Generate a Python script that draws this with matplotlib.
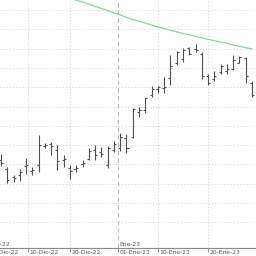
import numpy as np
import pandas as pd
import matplotlib
matplotlib.use("Agg")
import matplotlib.pyplot as plt
import matplotlib.transforms as mtransforms

# ---- data ----
# trading calendar (Dec 26 closed); bars start at 2022-12-05
calendar = pd.bdate_range("2022-12-01", "2023-01-31")
calendar = calendar[calendar != pd.Timestamp("2022-12-26")]
first_bar = pd.Timestamp("2022-12-05")

opens = [2.323, 2.276, 2.235, 2.245, 2.292, 2.266, 2.297, 2.396, 2.406, 2.375,
         2.323, 2.282, 2.276, 2.302, 2.328, 2.375, 2.364, 2.297, 2.375, 2.385,
         2.437, 2.442, 2.572, 2.582, 2.660, 2.691, 2.696, 2.748, 2.826, 2.846,
         2.903, 2.898, 2.872, 2.758, 2.743, 2.779, 2.784, 2.795, 2.826, 2.852,
         2.722]
highs = [2.354, 2.287, 2.245, 2.276, 2.333, 2.287, 2.453, 2.411, 2.416, 2.401,
         2.349, 2.297, 2.297, 2.323, 2.385, 2.401, 2.390, 2.396, 2.421, 2.463,
         2.458, 2.592, 2.598, 2.649, 2.706, 2.706, 2.753, 2.867, 2.888, 2.903,
         2.908, 2.924, 2.883, 2.769, 2.784, 2.820, 2.820, 2.867, 2.862, 2.857,
         2.732]
lows = [2.292, 2.204, 2.209, 2.214, 2.251, 2.245, 2.261, 2.385, 2.349, 2.271,
        2.287, 2.225, 2.261, 2.287, 2.323, 2.323, 2.339, 2.282, 2.364, 2.370,
        2.359, 2.437, 2.546, 2.567, 2.649, 2.670, 2.670, 2.712, 2.815, 2.831,
        2.867, 2.883, 2.743, 2.712, 2.732, 2.769, 2.769, 2.789, 2.826, 2.722,
        2.649]
closes = [2.307, 2.219, 2.230, 2.261, 2.297, 2.271, 2.401, 2.401, 2.396, 2.318,
          2.328, 2.266, 2.282, 2.307, 2.370, 2.349, 2.354, 2.385, 2.406, 2.442,
          2.385, 2.587, 2.582, 2.644, 2.691, 2.701, 2.701, 2.810, 2.883, 2.893,
          2.872, 2.893, 2.758, 2.722, 2.758, 2.810, 2.795, 2.841, 2.857, 2.758,
          2.660]
moving_avg = [np.nan] * 10 + [
    3.173, 3.162, 3.151, 3.141, 3.130, 3.119, 3.108, 3.097, 3.086, 3.075,
    3.062, 3.051, 3.042, 3.032, 3.022, 3.012, 3.003, 2.995, 2.987, 2.979,
    2.972, 2.964, 2.956, 2.948, 2.941, 2.934, 2.927, 2.919, 2.912, 2.905,
    2.898]

tick_dates = ["2022-12-01", "2022-12-10", "2022-12-20", "2023-01-01", "2023-01-10", "2023-01-20"]
tick_labels = ["01-Dic-22", "10-Dic-22", "20-Dic-22", "01-Ene-23", "10-Ene-23", "20-Ene-23"]
month_dates = ["2022-12-01", "2023-01-01"]
month_labels = ["Dic-22", "Ene-23"]
y_grid = [2.0, 2.1, 2.2, 2.3, 2.4, 2.5, 2.6, 2.7, 2.8, 2.9, 3.0, 3.1]

# ---- positions ----
offset = int(np.where(calendar == first_bar)[0][0])
cal_pos = np.arange(len(calendar)) - offset
cal_ord = np.array([d.toordinal() for d in calendar])

def date_pos(s):
    return float(np.interp(pd.Timestamp(s).toordinal(), cal_ord, cal_pos))

n = len(opens)
xs = np.arange(n)

fig = plt.figure(figsize=(2.56, 2.56), dpi=100)
ax = fig.add_axes([0, 8 / 256, 1, 248 / 256])

grid_c = "#d9d9d9"
for g in y_grid:
    ax.axhline(g, color=grid_c, lw=0.7, ls=(0, (1.2, 2.0)), zorder=0)
month_pos = [date_pos(d) for d in month_dates]
tick_pos = [date_pos(d) for d in tick_dates]
for p in tick_pos:
    if min(abs(p - m) for m in month_pos) > 1e-6:
        ax.axvline(p, color=grid_c, lw=0.7, ls=(0, (1.2, 2.0)), zorder=0)
for p in month_pos:
    ax.axvline(p, color="#bdbdbd", lw=0.8, ls=(0, (4, 3)), zorder=0)

bar_c = "#505050"
w = 0.32
ax.vlines(xs, lows, highs, color=bar_c, lw=0.8, zorder=3)
ax.hlines(opens, xs - w, xs, color=bar_c, lw=0.8, zorder=3)
ax.hlines(closes, xs, xs + w, color=bar_c, lw=0.8, zorder=3)

ax.plot(xs, moving_avg, color="#7fdc9d", lw=0.9, zorder=2)

for s in ["top", "left", "right"]:
    ax.spines[s].set_visible(False)
ax.spines["bottom"].set_color("#8a8a8a")
ax.spines["bottom"].set_linewidth(0.8)
ax.set_yticks([])
ax.set_xticks(tick_pos)
ax.set_xticklabels([])
ax.tick_params(axis="x", direction="out", length=3, width=0.6, color="#8a8a8a")

ax.set_xlim(-0.16, 40.64)
ax.set_ylim(1.867, 3.152)

trans = mtransforms.blended_transform_factory(ax.transData, ax.transAxes)
for p, lab in zip(tick_pos, tick_labels):
    ax.text(p, 0, lab, transform=trans + mtransforms.ScaledTranslation(1.5 / 100, -2.5 / 100, fig.dpi_scale_trans),
            ha="left", va="top", fontsize=4.3, color="#555555", clip_on=False)
for p, lab in zip(month_pos, month_labels):
    ax.text(p, 0, lab, transform=trans + mtransforms.ScaledTranslation(1.5 / 100, 1.5 / 100, fig.dpi_scale_trans),
            ha="left", va="bottom", fontsize=4.3, color="#555555", clip_on=False)

fig.savefig("out.png", dpi=100)
